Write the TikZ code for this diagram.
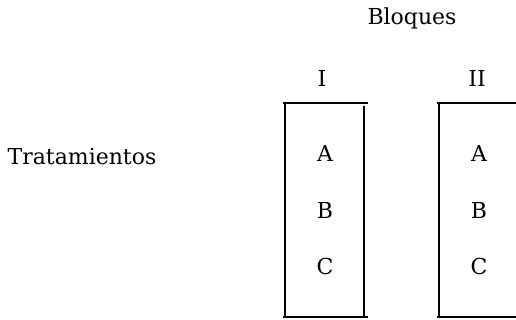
\documentclass[tikz,border=0pt]{standalone}
\usepackage{fontspec}
\setmainfont{DejaVu Serif}
\tikzset{
  lbl/.style={font=\fontsize{22}{26}\selectfont, inner sep=0pt, anchor=center},
  hline/.style={line width=1.8pt},
  vline/.style={line width=2.2pt}
}
\begin{document}
\begin{tikzpicture}[x=1pt,y=-1pt]
\useasboundingbox (0,0) rectangle (516,320);
% texts
\node[lbl] (bloques) at (412,18) {Bloques};
\node[lbl] (b1) at (322,78) {I};
\node[lbl] (b2) at (477,78) {II};
\node[lbl] (trat) at (82,157) {Tratamientos};
\node[lbl] (a1) at (325,153) {A};
\node[lbl] (bb1) at (325,210) {B};
\node[lbl] (c1) at (325,266) {C};
\node[lbl] (a2) at (479,153) {A};
\node[lbl] (bb2) at (479,210) {B};
\node[lbl] (c2) at (479,266) {C};
% block I
\draw[hline] (283,103) -- (368,103);
\draw[hline] (283,317) -- (368,317);
\draw[vline] (285,104) -- (285,316);
\draw[vline] (364,106) -- (364,316);
% block II
\draw[hline] (437,103) -- (516,103);
\draw[hline] (437,317) -- (516,317);
\draw[vline] (439,104) -- (439,316);
\end{tikzpicture}
\end{document}
